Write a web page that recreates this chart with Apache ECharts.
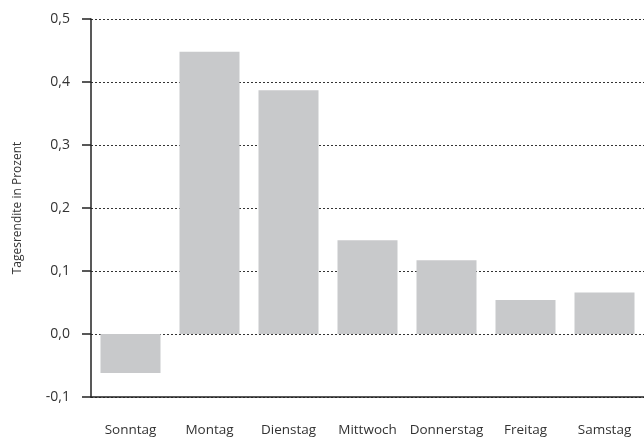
<!DOCTYPE html>
<html>
<head>
<meta charset="utf-8">
<script src="https://cdn.jsdelivr.net/npm/echarts@6/dist/echarts.min.js"></script>
<style>
  html, body { margin: 0; padding: 0; background: #fff; }
  #chart { width: 644px; height: 437px; }
</style>
</head>
<body>
<div id="chart"></div>
<script>
// Wochentage (x-Achse)
var days = ['Sonntag', 'Montag', 'Dienstag', 'Mittwoch', 'Donnerstag', 'Freitag', 'Samstag'];
// Tagesrendite in Prozent
var returns = [-0.062, 0.448, 0.387, 0.149, 0.117, 0.054, 0.066];
var yTicks = [-0.1, 0.0, 0.1, 0.2, 0.3, 0.4, 0.5];

var myChart = echarts.init(document.getElementById('chart'));
var fontName = '"Open Sans", sans-serif';

var options = {
  animation: false,
  grid: { left: 91, right: 0, top: 19, bottom: 39 },
  xAxis: {
    type: 'category',
    data: days,
    axisLine: { onZero: false, lineStyle: { color: '#222', width: 1.5 } },
    axisTick: { alignWithLabel: true, length: 12, lineStyle: { color: '#222', width: 1.5 } },
    axisLabel: { color: '#333', fontSize: 13.5, fontFamily: fontName, margin: 26, interval: 0 }
  },
  yAxis: {
    type: 'value',
    min: yTicks[0],
    max: yTicks[yTicks.length - 1],
    interval: 0.1,
    name: 'Tagesrendite in Prozent',
    nameLocation: 'middle',
    nameGap: 67,
    nameTextStyle: { color: '#333', fontSize: 12, fontFamily: fontName },
    axisLine: { show: true, lineStyle: { color: '#222', width: 1.5 } },
    axisTick: { show: true, length: 9, lineStyle: { color: '#222', width: 1.5 } },
    axisLabel: {
      color: '#333', fontSize: 14, fontFamily: fontName, margin: 21,
      formatter: function (v) { return v.toFixed(1).replace('.', ','); }
    },
    splitLine: { show: true, lineStyle: { color: '#333', type: [2, 2], width: 1 } }
  },
  series: [{
    type: 'bar',
    data: returns,
    barWidth: 60,
    itemStyle: { color: '#c8c9cb' }
  }]
};
myChart.setOption(options);
</script>
</body>
</html>
